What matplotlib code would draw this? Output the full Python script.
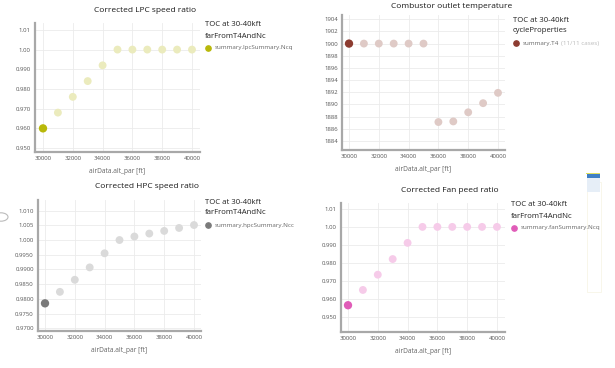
import matplotlib
matplotlib.use("Agg")
import matplotlib.pyplot as plt
from matplotlib.lines import Line2D
from matplotlib.patches import Rectangle, Circle

plt.rcParams['font.family'] = ['Open Sans', 'DejaVu Sans']

W, H = 615, 368

alt = [30000, 31000, 32000, 33000, 34000, 35000, 36000, 37000, 38000, 39000, 40000]
lpc = [0.960, 0.968, 0.976, 0.984, 0.992, 1.000, 1.000, 1.000, 1.000, 1.000, 1.000]
t4 = [1900, 1900, 1900, 1900, 1900, 1900, 1887.1, 1887.2, 1888.7, 1890.2, 1891.9]
hpc = [0.9785, 0.9824, 0.9865, 0.9907, 0.9955, 1.0000, 1.0012, 1.0022, 1.0031, 1.0041, 1.0051]
fan = [0.9564, 0.9649, 0.9734, 0.9821, 0.9911, 1.000, 1.000, 1.000, 1.000, 1.000, 1.000]

xticks = [30000, 32000, 34000, 36000, 38000, 40000]
lpc_yticks = [0.95, 0.96, 0.97, 0.98, 0.99, 1.00, 1.01]
lpc_ylabels = ["0.950", "0.960", "0.970", "0.980", "0.990", "1.00", "1.01"]
t4_yticks = [1884, 1886, 1888, 1890, 1892, 1894, 1896, 1898, 1900, 1902, 1904]
hpc_yticks = [0.970, 0.975, 0.980, 0.985, 0.990, 0.995, 1.000, 1.005, 1.010]
hpc_ylabels = ["0.9700", "0.9750", "0.9800", "0.9850", "0.9900", "0.9950", "1.000", "1.005", "1.010"]
fan_yticks = [0.95, 0.96, 0.97, 0.98, 0.99, 1.00, 1.01]
fan_ylabels = ["0.950", "0.960", "0.970", "0.980", "0.990", "1.00", "1.01"]

fig = plt.figure(figsize=(W / 100, H / 100), dpi=100)


def add_ax(l, t, r, b):
    return fig.add_axes([l / W, 1 - b / H, (r - l) / W, (b - t) / H])


def style(ax, x, y, dark, light, xlim, ylim, yt, ylab, title, title_xy):
    ax.set_xlim(*xlim)
    ax.set_ylim(*ylim)
    ax.scatter(x[1:], y[1:], s=32, color=light, edgecolors='none', zorder=3)
    ax.scatter(x[:1], y[:1], s=36, color=dark, edgecolors='none', zorder=4)
    ax.set_xticks(xticks)
    ax.set_xticklabels([str(v) for v in xticks])
    ax.set_yticks(yt)
    ax.set_yticklabels(ylab if ylab is not None else [str(v) for v in yt])
    ax.tick_params(axis='both', labelsize=4.3, colors='#555555', length=0, pad=3)
    ax.grid(True, color='#ebebeb', linewidth=0.6)
    ax.set_axisbelow(True)
    for s in ['top', 'right']:
        ax.spines[s].set_visible(False)
    for s in ['left', 'bottom']:
        ax.spines[s].set_color('#a8a8a8')
        ax.spines[s].set_linewidth(1.6)
    ax.set_xlabel("airData.alt_par [ft]", fontsize=4.8, color='#666666', labelpad=5)
    fig.text(title_xy[0] / W, 1 - title_xy[1] / H, title, fontsize=6.0,
             color='#1a1a1a', ha='center', va='center')


def legend(x, y, line2, label, dark, extra=None):
    fig.text(x / W, 1 - y / H, "TOC at 30-40kft", fontsize=5.6, color='#222222', va='center')
    fig.text(x / W, 1 - (y + 11) / H, line2, fontsize=5.6, color='#222222', va='center')
    fig.add_artist(Line2D([(x + 3) / W], [1 - (y + 23) / H], marker='o', markersize=3.8,
                          color=dark, transform=fig.transFigure, linestyle='none'))
    fig.text((x + 10) / W, 1 - (y + 23) / H, label, fontsize=4.5, color='#666666', va='center')
    if extra:
        fig.text((x + 10 + extra[1]) / W, 1 - (y + 23) / H, extra[0], fontsize=4.5,
                 color='#bbbbbb', va='center')


ax1 = add_ax(35, 23, 200, 152)
style(ax1, alt, lpc, '#b8b80a', '#ebebbd', (29463, 40537), (0.948, 1.0135),
      lpc_yticks, lpc_ylabels, "Corrected LPC speed ratio", (145, 11))
legend(205, 25, "farFromT4AndNc", "summary.lpcSummary.Ncq", '#b8b80a')

ax2 = add_ax(342, 15, 505, 150)
style(ax2, alt, t4, '#8c3b30', '#dfcac6', (29530, 40470), (1882.5, 1904.7),
      t4_yticks, None, "Combustor outlet temperature", (452, 6))
legend(513, 20, "cycleProperties", "summary.T4", '#8c3b30', extra=("(11/11 cases)", 38))

ax3 = add_ax(38, 200, 201, 331)
style(ax3, alt, hpc, '#7a7a7a', '#dadada', (29530, 40470), (0.9691, 1.0136),
      hpc_yticks, hpc_ylabels, "Corrected HPC speed ratio", (147, 187))
legend(205, 202, "farFromT4AndNc", "summary.hpcSummary.Ncc", '#7a7a7a')

ax4 = add_ax(341, 203, 505, 332)
style(ax4, alt, fan, '#e05cb8', '#f6cbe9', (29530, 40540), (0.9415, 1.0133),
      fan_yticks, fan_ylabels, "Corrected Fan peed ratio", (450, 190))
legend(511, 205, "farFromT4AndNc", "summary.fanSummary.Ncq", '#e05cb8')

# screenshot artifacts at the edges
fig.add_artist(Rectangle((587 / W, 1 - 292 / H), 14 / W, 110 / H, transform=fig.transFigure,
                         facecolor='none', edgecolor='#f5f3e2', linewidth=0.5))
fig.add_artist(Rectangle((587 / W, 1 - 192 / H), 13 / W, 19 / H, transform=fig.transFigure,
                         facecolor='#e6eef7', edgecolor='none'))
fig.add_artist(Rectangle((587 / W, 1 - 178 / H), 13 / W, 5 / H, transform=fig.transFigure,
                         facecolor='#3f7fc4', edgecolor='none'))
fig.add_artist(Rectangle((586 / W, 1 - 174 / H), 14 / W, 1.2 / H, transform=fig.transFigure,
                         facecolor='#e0e060', edgecolor='none'))
fig.add_artist(Circle((1 / W, 1 - 217 / H), 7 / W, transform=fig.transFigure,
                      facecolor='none', edgecolor='#bbbbbb', linewidth=0.8))

fig.savefig("out.png", dpi=100)
